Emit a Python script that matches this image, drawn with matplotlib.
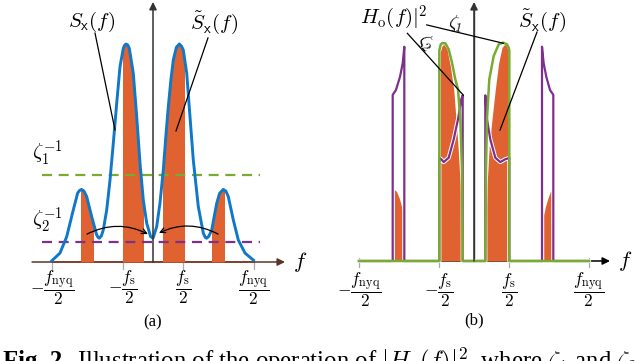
import matplotlib
matplotlib.use("Agg")
import matplotlib.pyplot as plt
import matplotlib.patheffects as pe
from matplotlib.patches import Rectangle, FancyArrowPatch

plt.rcParams['mathtext.fontset'] = 'cm'
plt.rcParams['font.family'] = ['Liberation Serif', 'DejaVu Serif']

# ---------------- data (panel a) ----------------
a_f = [-3.377, -3.1, -2.877, -2.657, -2.51, -2.44, -2.377, -2.30, -2.21, -2.043,
       -1.877, -1.83, -1.79, -1.72, -1.657, -1.543, -1.433, -1.323, -1.21, -1.1,
       -0.99, -0.95, -0.9, -0.84, -0.79, -0.657, -0.543, -0.433, -0.323, -0.21,
       -0.077, 0.0,
       0.123, 0.233, 0.343, 0.43, 0.51, 0.6, 0.677, 0.78, 0.877, 0.95, 1.01,
       1.123, 1.233, 1.343, 1.51, 1.677, 1.74, 1.79, 1.86, 1.957, 2.123, 2.22,
       2.343, 2.43, 2.51, 2.677, 2.843, 3.067, 3.343]
a_S = [0.005, 0.041, 0.116, 0.239, 0.317, 0.329, 0.333, 0.325, 0.30, 0.208,
       0.124, 0.113, 0.109, 0.12, 0.147, 0.239, 0.376, 0.545, 0.728, 0.896,
       0.980, 0.993, 1.0, 0.995, 0.980, 0.866, 0.667, 0.453, 0.284, 0.178,
       0.116, 0.109,
       0.162, 0.271, 0.422, 0.58, 0.712, 0.84, 0.927, 0.985, 1.0, 0.99, 0.972,
       0.867, 0.667, 0.468, 0.254, 0.132, 0.113, 0.109, 0.118, 0.147, 0.269, 0.315,
       0.333, 0.325, 0.30, 0.193, 0.101, 0.041, 0.009]
a_bands = [(-2.4, -2.01), (-1.01, -0.323), (0.323, 1.033), (1.977, 2.367)]
a_zeta1_inv = 0.399
a_zeta2_inv = 0.093
a_ticks = [-3.367, -1.0, 1.0, 3.367]
tick_labels = [r'$-\dfrac{f_{\rm nyq}}{2}$', r'$-\dfrac{f_{\rm s}}{2}$',
               r'$\dfrac{f_{\rm s}}{2}$', r'$\dfrac{f_{\rm nyq}}{2}$']

# ---------------- data (panel b) ----------------
b_or_f = [-2.286, -2.286, -2.209, -2.134, -2.066, -2.020, -2.020,
          -0.963, -0.963, -0.915, -0.866, -0.771, -0.677, -0.58, -0.514, -0.457, -0.391, -0.343,
          0.323, 0.371, 0.437, 0.514, 0.609, 0.706, 0.8, 0.877, 0.94, 0.971, 0.971,
          1.99, 1.99, 2.04, 2.11, 2.18, 2.257, 2.257]
b_or_v = [0, 0.332, 0.321, 0.290, 0.251, 0.213, 0,
          0, 0.968, 0.995, 1.003, 0.980, 0.903, 0.795, 0.656, 0.532, 0.347, 0,
          0, 0.347, 0.532, 0.656, 0.795, 0.918, 0.988, 1.003, 0.995, 0.97, 0,
          0, 0.213, 0.251, 0.290, 0.321, 0.332, 0]
b_g_f = [-3.286, -0.991, -0.991, -0.95, -0.914, -0.82, -0.723, -0.629, -0.534, -0.457,
         -0.391, -0.343, -0.323, 0.323, 0.343, 0.371, 0.437, 0.563, 0.706, 0.829,
         0.943, 0.985, 1.009, 1.009, 3.286]
b_g_v = [0, 0, 0.975, 1.003, 1.008, 1.008, 0.980, 0.918, 0.841, 0.795,
         0.656, 0.426, 0, 0, 0.426, 0.656, 0.841, 0.949, 1.003, 1.011,
         1.003, 0.99, 0.975, 0, 0]
b_p_f = [-3.286, -2.323, -2.323, -2.229, -2.114, -2.037, -1.991, -1.991,
         -0.991, -0.991, -0.934, -0.866, -0.723, -0.58, -0.457, -0.363, -0.323, -0.323,
         0.323, 0.323, 0.371, 0.466, 0.609, 0.751, 0.894, 1.009, 1.009,
         1.943, 1.943, 1.991, 2.066, 2.171, 2.266, 2.266, 3.286]
b_p_v = [0, 0, 0.769, 0.792, 0.853, 0.915, 0.992, 0,
         0, 0.477, 0.471, 0.458, 0.478, 0.563, 0.656, 0.749, 0.767, 0,
         0, 0.767, 0.656, 0.563, 0.478, 0.458, 0.471, 0.477, 0,
         0, 0.992, 0.915, 0.853, 0.792, 0.769, 0, 0]
b_ticks = [-3.286, -1.0, 1.0, 3.286]

BLUE = '#0f78c8'
ORANGE = '#df6230'
GREEN = '#77AC30'
PURPLE = '#7E2F8E'

fig = plt.figure(figsize=(6.4, 3.61), dpi=100)
ax_a = fig.add_axes([0, 0, 0.5, 1])
ax_b = fig.add_axes([0.5, 0, 0.5, 1])
for ax in (ax_a, ax_b):
    ax.set_axis_off()
ax_a.set_xlim(-5.1, 5.5667)
ax_a.set_ylim(-0.4541, 1.2018)
ax_b.set_xlim(-4.4, 4.743)
ax_b.set_ylim(-0.463, 1.2083)

def axis_arrows(ax, x0, x1, ytop, hcol):
    ax.annotate('', xy=(x1, 0), xytext=(x0, 0),
                arrowprops=dict(arrowstyle='-|>', color=hcol, lw=1.1,
                                mutation_scale=11, shrinkA=0, shrinkB=0), zorder=1)
    ax.annotate('', xy=(0, ytop), xytext=(0, 0),
                arrowprops=dict(arrowstyle='-|>', color='#333333', lw=1.1,
                                mutation_scale=11, shrinkA=0, shrinkB=0), zorder=6)

def ticks(ax, pos, ylab, dv_up, dv_dn):
    for p, lab in zip(pos, tick_labels):
        ax.plot([p, p], [dv_up, -dv_dn], color='#aaaaaa', lw=0.9, zorder=0.5)
        ax.text(p, ylab, lab, ha='center', va='center', fontsize=12.5)

# ---------------- panel (a) ----------------
axis_arrows(ax_a, -4.03, 4.4, 1.193, '#5a3428')
ticks(ax_a, a_ticks, -0.118, 0.014, 0.034)
ax_a.plot([a_ticks[0], a_ticks[-1]], [0, 0], color='#7a3f2a', lw=1.2, zorder=2)
for lo, hi in a_bands:
    poly = ax_a.fill_between(a_f, 0, a_S, color=ORANGE, lw=0, zorder=2)
    rect = Rectangle((lo, -0.01), hi - lo, 2, transform=ax_a.transData)
    poly.set_clip_path(rect)
ax_a.plot([-3.7, 3.57], [a_zeta1_inv] * 2, color=GREEN, lw=1.6, dashes=(4.5, 3), zorder=3)
ax_a.plot([-3.7, 3.57], [a_zeta2_inv] * 2, color=PURPLE, lw=1.6, dashes=(4.5, 3), zorder=3)
ax_a.plot(a_f, a_S, color=BLUE, lw=2.1, zorder=4, solid_joinstyle='round')

ax_a.text(-3.5, 0.5, r'$\zeta_1^{-1}$', ha='center', va='center', fontsize=15)
ax_a.text(-3.5, 0.19, r'$\zeta_2^{-1}$', ha='center', va='center', fontsize=15)
ax_a.text(-2.05, 1.10, r'$S_{\mathsf{x}}(f)$', ha='center', va='center', fontsize=15)
ax_a.text(2.02, 1.10, r'$\tilde{S}_{\mathsf{x}}(f)$', ha='center', va='center', fontsize=15)
ax_a.plot([-1.933, -1.267], [1.05, 0.606], color='black', lw=0.9, zorder=7)
ax_a.plot([1.833, 0.767], [1.028, 0.601], color='black', lw=0.9, zorder=7)
for (s, e, r) in [((-2.2, 0.128), (-0.17, 0.128), -0.25), ((2.17, 0.128), (0.2, 0.133), 0.25)]:
    arr = FancyArrowPatch(s, e, connectionstyle=f'arc3,rad={r}', arrowstyle='->',
                          mutation_scale=9, lw=0.9, color='black', zorder=8,
                          shrinkA=0, shrinkB=0)
    ax_a.add_patch(arr)
ax_a.text(4.9, 0.0, r'$f$', ha='center', va='center', fontsize=16)
ax_a.text(0.0, -0.275, '(a)', ha='center', va='center', fontsize=12)

# ---------------- panel (b) ----------------
axis_arrows(ax_b, -3.286, 3.886, 1.199, 'black')
ticks(ax_b, b_ticks, -0.135, 0.014, 0.028)
ax_b.fill_between(b_or_f, 0, b_or_v, color=ORANGE, lw=0, zorder=2)
ax_b.plot(b_p_f, b_p_v, color=PURPLE, lw=1.6, zorder=3,
          path_effects=[pe.withStroke(linewidth=3.0, foreground='white')])
ax_b.plot(b_g_f, b_g_v, color=GREEN, lw=1.8, zorder=4, solid_joinstyle='round')
ax_b.plot([0, 0], [0, 1.19], color='#333333', lw=1.0, zorder=1.5)

ax_b.text(-2.286, 1.125, r'$H_{\rm o}(f)|^2$', ha='center', va='center', fontsize=15)
ax_b.text(1.943, 1.111, r'$\tilde{S}_{\mathsf{x}}(f)$', ha='center', va='center', fontsize=15)
ax_b.plot([-1.351, 0.838], [1.093, 1.008], color='black', lw=0.9, zorder=7)
ax_b.plot([-1.904, -0.306], [1.054, 0.768], color='black', lw=0.9, zorder=7)
ax_b.plot([1.8, 0.743], [1.06, 0.606], color='black', lw=0.9, zorder=7)
ax_b.text(-0.514, 1.10, r'$\zeta_1$', ha='center', va='center', fontsize=13, rotation=-13)
ax_b.text(-1.37, 1.014, r'$\zeta_2$', ha='center', va='center', fontsize=13, rotation=-50)
ax_b.text(4.314, 0.0, r'$f$', ha='center', va='center', fontsize=16)
ax_b.text(0.0, -0.275, '(b)', ha='center', va='center', fontsize=12)

# ---------------- caption (cut off by the figure edge, as in the reference) ----------------
fig.text(3 / 640, -0.0194, 'Fig. 2.', fontsize=17.8, fontweight='bold', va='baseline', ha='left')
fig.text(77 / 640, -0.0194, r'Illustration of the operation of $|H_{\rm o}(f)|^2$, where $\zeta_1$ and $\zeta_2$',
         fontsize=17.8, va='baseline', ha='left')

fig.savefig('out.png', dpi=100)
